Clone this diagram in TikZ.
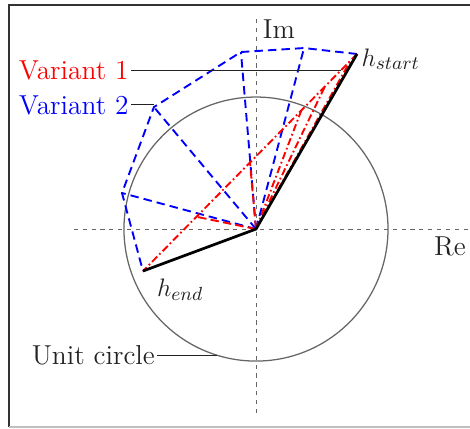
\documentclass[tikz,border=0pt]{standalone}
\usepackage{amsmath}
\usetikzlibrary{positioning, calc}
\definecolor{axisgray}{HTML}{666666}
\definecolor{framegray}{HTML}{333333}
\definecolor{labelgray}{HTML}{222222}

\begin{document}
\begin{tikzpicture}[
    x=2.2cm, y=2.2cm,
    font=\fontsize{13}{15}\selectfont,
    axis/.style={axisgray, line width=0.4pt,
        dash pattern=on 2pt off 2.2pt},
    circ/.style={axisgray, line width=0.6pt},
    path1/.style={red, line width=0.9pt,
        dash pattern=on 3.5pt off 1.4pt on 0.8pt off 1.4pt},
    spoke1/.style={red, line width=0.9pt, dash pattern=on 4pt off 2pt},
    path2/.style={blue, line width=0.9pt, dash pattern=on 4pt off 2.4pt},
    hvec/.style={black, line width=1.3pt},
    leader/.style={labelgray, line width=0.5pt},
    lab/.style={labelgray, inner sep=1pt}
]
\useasboundingbox (-1.939,-1.508) rectangle (1.621,1.735);
% frame
\draw[framegray, line width=0.8pt] (1.7,1.697) -- (-1.871,1.697) -- (-1.871,-1.5);
\draw[black!25, line width=0.8pt] (-1.871,-1.5) -- (1.7,-1.5);

% axes and unit circle
\coordinate (O) at (0,0);
\coordinate (xmin) at (-1.38,0);
\coordinate (xmax) at (1.65,0);
\coordinate (ymin) at (0,-1.394);
\coordinate (ymax) at (0,1.606);
\draw[axis] (xmin) -- (xmax);
\draw[axis] (ymin) -- (ymax);
\node[lab] (re) at (1.47,-0.13) {Re};
\node[lab] (im) at (0.174,1.515) {Im};
\draw[circ] (O) circle (1);

% end points
\coordinate (hs) at (0.765,1.326);
\coordinate (he) at (-0.856,-0.318);

% variant 2
\coordinate (b1) at (0.364,1.371);
\coordinate (b2) at (-0.114,1.341);
\coordinate (b3) at (-0.773,0.924);
\coordinate (b4) at (-1.015,0.273);
\draw[path2] (hs) -- (b1) -- (b2) -- (b3) -- (b4) -- (he);
\foreach \p in {b1,b2,b3,b4}
  \draw[path2] (O) -- (\p);

% variant 1
\foreach \t/\n in {0.03/r1, 0.15/r2, 0.26/r3, 0.5/r4, 0.75/r5}
  \coordinate (\n) at ($(hs)!\t!(he)$);
\draw[path1] (hs) -- (he);
\foreach \p in {r1,r2,r3}
  \draw[path1] (O) -- (\p);
\foreach \p in {r4,r5}
  \draw[spoke1] (O) -- (\p);

\draw[hvec] (hs) -- (O) -- (he);

% labels
\node[lab, anchor=west, inner sep=2pt] (hslab) at ([yshift=-2.5pt]hs) {$h_{start}$};
\node[lab, anchor=north west] (helab) at ([xshift=5.5pt, yshift=-2.5pt]he) {$h_{end}$};

\coordinate (v1end) at ($(hs)!0.074!(he)$);
\node[red, inner sep=1pt, left=3.5cm of v1end] (var1) {Variant 1};
\node[blue, inner sep=1pt, below=5pt of var1.south west, anchor=north west] (var2) {Variant 2};
\draw[leader] (var1.east) -- (v1end);
\draw[leader] (var2.east) -- (var2.east -| b3);

\coordinate (ucpt) at (253:1);
\node[lab, left=1.0cm of ucpt] (uclab) {Unit circle};
\draw[leader] (uclab.east) -- (ucpt);
\end{tikzpicture}
\end{document}
